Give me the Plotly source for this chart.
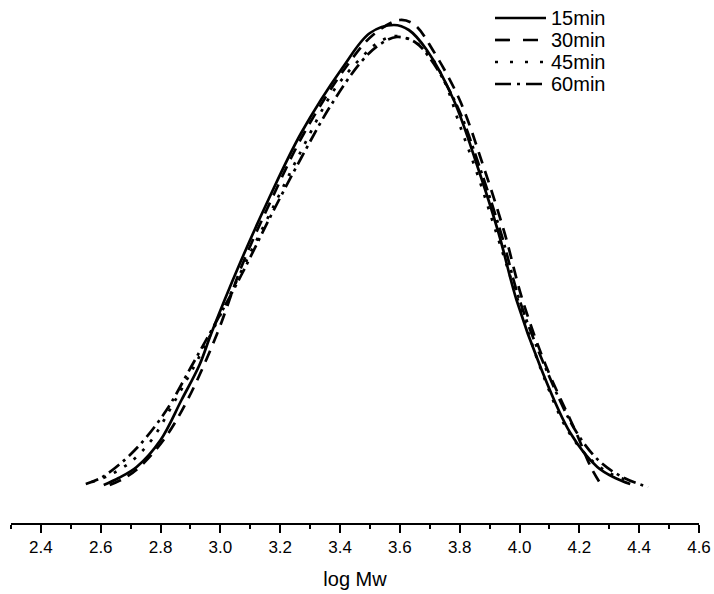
import plotly.graph_objects as go

# log Mw values and normalized intensity
x_15 = [2.61, 2.66, 2.72, 2.80, 2.87, 2.93, 2.97, 3.06, 3.16, 3.27, 3.41, 3.50, 3.58, 3.63,
        3.69, 3.78, 3.86, 3.93, 3.99, 4.07, 4.17, 4.26, 4.32, 4.37]
y_15 = [0.076, 0.090, 0.112, 0.166, 0.246, 0.316, 0.380, 0.512, 0.646, 0.780, 0.912, 0.980,
        0.996, 0.986, 0.946, 0.846, 0.712, 0.580, 0.446, 0.312, 0.180, 0.112, 0.090, 0.078]

x_30 = [2.63, 2.68, 2.73, 2.81, 2.89, 2.99, 3.07, 3.17, 3.28, 3.42, 3.51, 3.60, 3.65, 3.71,
        3.80, 3.88, 3.95, 4.01, 4.09, 4.19, 4.24, 4.28]
y_30 = [0.076, 0.090, 0.112, 0.166, 0.246, 0.380, 0.512, 0.646, 0.780, 0.912, 0.976, 1.006,
        0.996, 0.946, 0.846, 0.712, 0.580, 0.446, 0.312, 0.180, 0.110, 0.070]

x_45 = [2.57, 2.63, 2.70, 2.77, 2.84, 2.92, 3.00, 3.08, 3.18, 3.28, 3.38, 3.47, 3.53, 3.59,
        3.65, 3.70, 3.75, 3.80, 3.86, 3.93, 4.00, 4.07, 4.16, 4.24, 4.30, 4.35]
y_45 = [0.082, 0.096, 0.122, 0.166, 0.236, 0.322, 0.416, 0.516, 0.636, 0.756, 0.866, 0.930,
        0.962, 0.974, 0.962, 0.936, 0.882, 0.796, 0.696, 0.566, 0.436, 0.310, 0.186, 0.126,
        0.100, 0.088]

x_60 = [2.55, 2.60, 2.66, 2.73, 2.82, 2.90, 2.98, 3.07, 3.17, 3.27, 3.37, 3.47, 3.53, 3.59,
        3.65, 3.70, 3.79, 3.87, 3.94, 4.00, 4.09, 4.19, 4.27, 4.35, 4.43]
y_60 = [0.078, 0.090, 0.116, 0.156, 0.226, 0.310, 0.396, 0.496, 0.616, 0.730, 0.836, 0.922,
        0.956, 0.972, 0.962, 0.930, 0.836, 0.706, 0.576, 0.446, 0.306, 0.182, 0.122, 0.090,
        0.072]

series_names = ["15min", "30min", "45min", "60min"]
series_x = [x_15, x_30, x_45, x_60]
series_y = [y_15, y_30, y_45, y_60]
dashes = ["solid", "12px,8px", "3px,9px", "13px,5px,3px,5px"]
legend_dashes = ["solid", "15px,13px", "3px,12px", "16px,6px,3px,6px"]

tick_vals = [2.4, 2.6, 2.8, 3.0, 3.2, 3.4, 3.6, 3.8, 4.0, 4.2, 4.4, 4.6]
tick_text = ["2.4", "2.6", "2.8", "3.0", "3.2", "3.4", "3.6", "3.8", "4.0", "4.2", "4.4", "4.6"]

FONT = "Liberation Sans, Arial, sans-serif"
W, H = 714, 594
ML, MR, MT, MB = 11, 15, 0, 71
PW, PH = W - ML - MR, H - MT - MB

def px_to_paper(px, py):
    return (px - ML) / PW, (H - MB - py) / PH

fig = go.Figure()
for name, xs, ys, d in zip(series_names, series_x, series_y, dashes):
    fig.add_trace(go.Scatter(
        x=xs, y=ys, mode="lines", name=name, showlegend=False,
        line=dict(color="black", width=2.7, dash=d, shape="spline", smoothing=1.0),
    ))

# hand-drawn legend (sample line + label), placed like the reference
for i, (name, d) in enumerate(zip(series_names, legend_dashes)):
    row_y = 18 + 22 * i
    x0, y0 = px_to_paper(495, row_y)
    x1, _ = px_to_paper(546, row_y)
    xt, _ = px_to_paper(549, row_y)
    fig.add_shape(type="line", xref="paper", yref="paper", x0=x0, x1=x1, y0=y0, y1=y0,
                  line=dict(color="black", width=2.7, dash=d))
    fig.add_annotation(xref="paper", yref="paper", x=xt, y=y0, xanchor="left",
                       yanchor="middle", text=name, showarrow=False,
                       font=dict(family=FONT, size=20, color="black"))

fig.update_layout(
    width=W, height=H,
    margin=dict(l=ML, r=MR, t=MT, b=MB),
    paper_bgcolor="white", plot_bgcolor="white",
    font=dict(family=FONT, color="black"),
    showlegend=False,
    xaxis=dict(
        range=[2.3, 4.6], showgrid=False, zeroline=False,
        showline=True, linecolor="black", linewidth=1.5,
        ticks="outside", ticklen=8, tickwidth=1.5, tickcolor="black",
        tickvals=tick_vals, ticktext=tick_text,
        tickfont=dict(family=FONT, size=17, color="black"),
        minor=dict(dtick=0.1, tick0=2.3, ticks="outside", ticklen=4,
                   tickwidth=1.5, tickcolor="black", showgrid=False),
        title=dict(text="log Mw", font=dict(family=FONT, size=20, color="black"),
                   standoff=16),
    ),
    yaxis=dict(range=[0, 1.046], visible=False, showgrid=False, zeroline=False),
)

fig.write_html("out.html")
